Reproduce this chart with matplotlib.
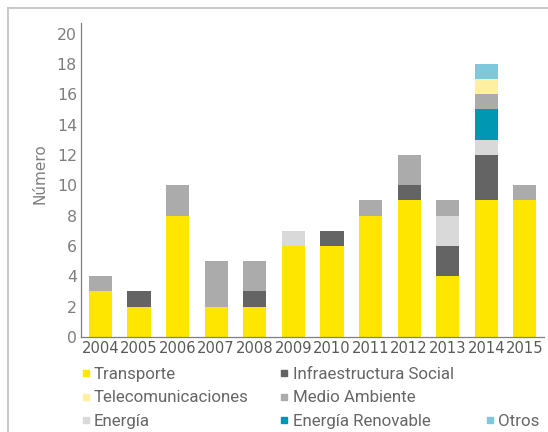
import matplotlib
matplotlib.use("Agg")
import matplotlib.pyplot as plt
from matplotlib.lines import Line2D
import numpy as np

years = ["2004", "2005", "2006", "2007", "2008", "2009",
         "2010", "2011", "2012", "2013", "2014", "2015"]

# project counts per sector, stacked bottom to top in this order
transporte = [3, 2, 8, 2, 2, 6, 6, 8, 9, 4, 9, 9]
infraestructura_social = [0, 1, 0, 0, 1, 0, 1, 0, 1, 2, 3, 0]
energia = [0, 0, 0, 0, 0, 1, 0, 0, 0, 2, 1, 0]
energia_renovable = [0, 0, 0, 0, 0, 0, 0, 0, 0, 0, 2, 0]
medio_ambiente = [1, 0, 2, 3, 2, 0, 0, 1, 2, 1, 1, 1]
telecomunicaciones = [0, 0, 0, 0, 0, 0, 0, 0, 0, 0, 1, 0]
otros = [0, 0, 0, 0, 0, 0, 0, 0, 0, 0, 1, 0]

series = [
    ("Transporte", transporte, "#ffe600"),
    ("Infraestructura Social", infraestructura_social, "#646464"),
    ("Energía", energia, "#d9d9d9"),
    ("Energía Renovable", energia_renovable, "#0097b5"),
    ("Medio Ambiente", medio_ambiente, "#ababab"),
    ("Telecomunicaciones", telecomunicaciones, "#fff0a0"),
    ("Otros", otros, "#7ec8dc"),
]
colors = {name: c for name, _, c in series}

fig = plt.figure(figsize=(5.48, 4.32), dpi=100)
ax = fig.add_axes([0.148, 0.22, 0.845, 0.727])

x = np.arange(len(years))
bottom = np.zeros(len(years))
for name, vals, c in series:
    vals = np.array(vals, dtype=float)
    ax.bar(x, vals, width=0.6, bottom=bottom, color=c, linewidth=0)
    bottom += vals

ax.set_xlim(-0.5, 11.5)
ax.set_ylim(0, 20.7)
ax.set_yticks(range(0, 21, 2))
ax.set_xticks(x)
ax.set_xticklabels(years)
ax.tick_params(axis="both", length=0, labelsize=11.3, colors="#7f7f7f")
ax.tick_params(axis="x", pad=3, colors="#595959", labelsize=10.6)
ax.tick_params(axis="y", pad=3)
for s in ["top", "right"]:
    ax.spines[s].set_visible(False)
for s in ["left", "bottom"]:
    ax.spines[s].set_color("#7f7f7f")
    ax.spines[s].set_linewidth(0.9)
ax.set_ylabel("Número", fontsize=11, color="#7f7f7f")
ax.yaxis.set_label_coords(-0.072, 0.52)

# legend laid out in three columns, third column only holds "Otros"
order = ["Transporte", "Telecomunicaciones", "Energía",
         "Infraestructura Social", "Medio Ambiente", "Energía Renovable",
         None, None, "Otros"]
handles, labels = [], []
for name in order:
    if name is None:
        handles.append(Line2D([], [], linestyle="none"))
        labels.append("")
    else:
        handles.append(Line2D([], [], linestyle="none", marker="s",
                              markersize=4.5, color=colors[name]))
        labels.append(name)
leg = fig.legend(handles, labels, ncol=3, loc="upper left",
                 bbox_to_anchor=(0.136, 0.167), frameon=False,
                 fontsize=12.2, handlelength=0.5, handletextpad=0.25,
                 columnspacing=1.85, labelspacing=0.52, borderaxespad=0)
for t in leg.get_texts():
    t.set_color("#666666")
    t.set_family("Roboto")

# light frame around the chart
fig.add_artist(Line2D([8 / 548, 1], [1 - 8 / 432, 1 - 8 / 432],
                      color="#c8c8c8", linewidth=1.4))
fig.add_artist(Line2D([8 / 548, 8 / 548], [0, 1 - 8 / 432],
                      color="#c8c8c8", linewidth=1.4))

fig.savefig("out.png", dpi=100)
